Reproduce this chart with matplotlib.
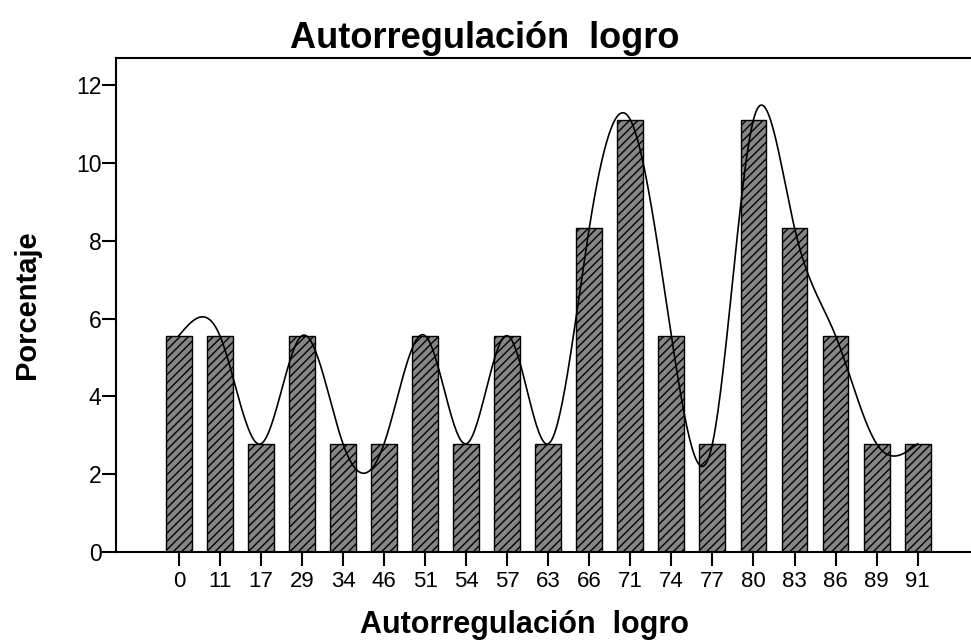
import numpy as np
import matplotlib
matplotlib.use("Agg")
import matplotlib.pyplot as plt

categories = ["0", "11", "17", "29", "34", "46", "51", "54", "57", "63",
              "66", "71", "74", "77", "80", "83", "86", "89", "91"]
percent = [5.56, 5.56, 2.78, 5.56, 2.78, 2.78, 5.56, 2.78, 5.56, 2.78,
           8.33, 11.11, 5.56, 2.78, 11.11, 8.33, 5.56, 2.78, 2.78]
yticks = [0, 2, 4, 6, 8, 10, 12]
title = "Autorregulación  logro"
xlabel = "Autorregulación  logro"
ylabel = "Porcentaje"


def natural_spline(x, y, xs):
    x = np.asarray(x, float); y = np.asarray(y, float)
    n = len(x)
    h = np.diff(x)
    A = np.zeros((n, n)); b = np.zeros(n)
    A[0, 0] = 1; A[-1, -1] = 1
    for i in range(1, n - 1):
        A[i, i - 1] = h[i - 1]
        A[i, i] = 2 * (h[i - 1] + h[i])
        A[i, i + 1] = h[i]
        b[i] = 3 * ((y[i + 1] - y[i]) / h[i] - (y[i] - y[i - 1]) / h[i - 1])
    c = np.linalg.solve(A, b)
    bb = (np.diff(y) / h) - h * (2 * c[:-1] + c[1:]) / 3
    d = np.diff(c) / (3 * h)
    idx = np.clip(np.searchsorted(x, xs) - 1, 0, n - 2)
    dx = xs - x[idx]
    return y[idx] + bb[idx] * dx + c[idx] * dx ** 2 + d[idx] * dx ** 3


plt.rcParams['font.family'] = ['Liberation Sans', 'DejaVu Sans']
plt.rcParams['hatch.linewidth'] = 1.0

fig = plt.figure(figsize=(9.71, 6.43), dpi=100)
ax = fig.add_axes([0.1195, 0.1415, 0.8805, 0.7685])

pos = np.arange(len(categories))
ax.bar(pos, percent, width=0.63, color="#858585", edgecolor="black",
       linewidth=1.0, hatch="////", zorder=2)

xs = np.linspace(pos[0], pos[-1], 600)
ax.plot(xs, natural_spline(pos, percent, xs), color="black", linewidth=1.2, zorder=3)

ax.set_xlim(-1.53, 19.3)
ax.set_ylim(0, 12.7)
ax.set_xticks(pos)
ax.set_xticklabels(categories, fontsize=16)
ax.set_yticks(yticks)
ax.set_yticklabels([str(v) for v in yticks], fontsize=16.5)
ax.tick_params(axis="x", direction="out", length=10, width=1.5, pad=4)
ax.tick_params(axis="y", direction="out", length=10, width=1.5, pad=0.5)
for s in ["left", "top", "bottom"]:
    ax.spines[s].set_linewidth(1.5)
ax.spines["right"].set_visible(False)

ax.set_title(title, fontsize=26, fontweight="bold", pad=7, x=0.4316)
ax.set_xlabel(xlabel, fontsize=22, fontweight="bold")
ax.xaxis.set_label_coords(0.478, -0.117)
ax.set_ylabel(ylabel, fontsize=21, fontweight="bold")
ax.yaxis.set_label_coords(-0.088, 0.5)

fig.savefig("out.png", dpi=100)
